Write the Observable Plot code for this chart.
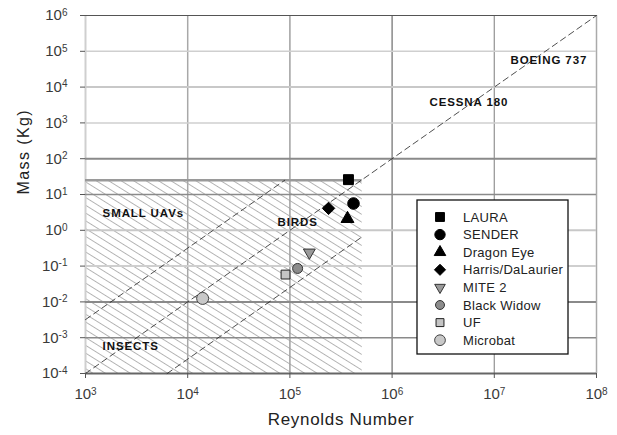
<!DOCTYPE html>
<html>
<head>
<meta charset="utf-8">
<script src="https://cdn.jsdelivr.net/npm/d3@7"></script>
<script src="https://cdn.jsdelivr.net/npm/@observablehq/plot@0.6"></script>
<style>
  html, body { margin: 0; padding: 0; background: #fff; }
  #chart svg { display: block; }
</style>
</head>
<body>
<div id="chart"></div>
<script>
// ---------- data ----------
const names    = ["LAURA", "SENDER", "Dragon Eye", "Harris/DaLaurier", "MITE 2", "Black Widow", "UF", "Microbat"];
const reynolds = [3.74e5, 4.19e5, 3.66e5, 2.39e5, 1.55e5, 1.19e5, 9.06e4, 1.4e4];
const mass     = [26, 5.6, 2.1, 4.1, 0.24, 0.086, 0.058, 0.0125];

const xTicks = [1e3, 1e4, 1e5, 1e6, 1e7, 1e8];
const yTicks = [1e-4, 1e-3, 1e-2, 1e-1, 1, 1e1, 1e2, 1e3, 1e4, 1e5, 1e6];

// shaded "small UAVs / birds / insects" region
const regionRe   = [1e3, 5.1e5];
const regionMass = [1e-4, 25];

// dashed scaling lines (mass ~ Re^2)
const lineMainRe   = [1e3, 1e8];
const lineMainMass = [1e-4, 1e6];
const lineUpperRe   = [1e3, 8.9e4];
const lineUpperMass = [3.2e-3, 25];
const lineLowerRe   = [6.3e3, 5.1e5];
const lineLowerMass = [1e-4, 0.66];

// region / aircraft annotations (left end of text)
const labelText = ["SMALL UAVs", "BIRDS", "INSECTS", "CESSNA 180", "BOEING 737"];
const labelRe   = [1470, 7.57e4, 1470, 2.32e6, 1.44e7];
const labelMass = [2.95, 1.65, 5.7e-4, 3720, 5.5e4];

// ---------- styles ----------
const FONT = "'Liberation Sans', Arial, Helvetica, sans-serif";
const downTriangle = {
  draw(context, size) {
    const y = -Math.sqrt(size / (3 * Math.sqrt(3)));
    context.moveTo(0, -2 * y);
    context.lineTo(-Math.sqrt(3) * y, y);
    context.lineTo(Math.sqrt(3) * y, y);
    context.closePath();
  }
};
const styleOf = {
  "LAURA":            {symbol: "square",   r: 5.6, fill: "#000", stroke: "#000"},
  "SENDER":           {symbol: "circle",   r: 5.8, fill: "#000", stroke: "#000"},
  "Dragon Eye":       {symbol: "triangle", r: 4.8, fill: "#000", stroke: "#000"},
  "Harris/DaLaurier": {symbol: "diamond2", r: 5.6, fill: "#000", stroke: "#000"},
  "MITE 2":           {symbol: downTriangle, r: 4.4, fill: "#9a9a9a", stroke: "#333"},
  "Black Widow":      {symbol: "circle",   r: 5.0, fill: "#8c8c8c", stroke: "#333"},
  "UF":               {symbol: "square",   r: 5.0, fill: "#c4c4c4", stroke: "#222"},
  "Microbat":         {symbol: "circle",   r: 6.0, fill: "#c8c8c8", stroke: "#444"}
};

// gridline styling by exponent
const hGridStyle = {
  "6": ["#555", 1.2], "5": ["#cfcfcf", 1.5], "4": ["#c8c8c8", 2], "3": ["#cfcfcf", 1.5],
  "2": ["#8a8a8a", 2], "1": ["#8a8a8a", 1.6], "0": ["#c8c8c8", 2], "-1": ["#cfcfcf", 2],
  "-2": ["#8a8a8a", 2], "-3": ["#8a8a8a", 1.6], "-4": ["#666", 2]
};
const vGridStyle = {
  "3": ["#cfcfcf", 2], "4": ["#a8a8a8", 1.5], "5": ["#a0a0a0", 1.5],
  "6": ["#777", 1.3], "7": ["#9a9a9a", 1.3], "8": ["#aaa", 1.5]
};
const exp10 = d => Math.round(Math.log10(d));

// ---------- marks ----------
const marks = [];

// hatch pattern definition
marks.push(() => {
  const defs = d3.create("svg:defs");
  const p = defs.append("pattern")
    .attr("id", "hatch").attr("patternUnits", "userSpaceOnUse")
    .attr("width", 8).attr("height", 6.6)
    .attr("patternTransform", "rotate(32)");
  p.append("rect").attr("width", 8).attr("height", 6.6).attr("fill", "#fff");
  p.append("line").attr("x1", 0).attr("x2", 8).attr("y1", 3.3).attr("y2", 3.3)
    .attr("stroke", "#acacac").attr("stroke-width", 0.9);
  return defs.node();
});

marks.push(Plot.rect([0], {
  x1: () => regionRe[0], x2: () => regionRe[1],
  y1: () => regionMass[0], y2: () => regionMass[1],
  fill: "url(#hatch)"
}));

for (const t of xTicks) {
  const [c, w] = vGridStyle[String(exp10(t))];
  marks.push(Plot.ruleX([t], {stroke: c, strokeWidth: w}));
}
for (const t of yTicks) {
  const [c, w] = hGridStyle[String(exp10(t))];
  marks.push(Plot.ruleY([t], {stroke: c, strokeWidth: w}));
}
// top edge of the shaded region
marks.push(Plot.ruleY([regionMass[1]], {x1: regionRe[0], x2: regionRe[1], stroke: "#9a9a9a", strokeWidth: 2.5}));

// dashed scaling lines
for (const [res, ms] of [[lineMainRe, lineMainMass], [lineUpperRe, lineUpperMass], [lineLowerRe, lineLowerMass]]) {
  marks.push(Plot.line(res.map((r, i) => i), {
    x: i => res[i], y: i => ms[i],
    stroke: "#222", strokeWidth: 0.8, strokeDasharray: "6,4"
  }));
}

// annotations
marks.push(Plot.text(labelText.map((_, i) => i), {
  x: i => labelRe[i], y: i => labelMass[i], text: i => labelText[i],
  textAnchor: "start", fontSize: 11.5, fontWeight: "bold", fill: "#111"
}));

// data points
names.forEach((n, i) => {
  const s = styleOf[n];
  marks.push(Plot.dot([i], {
    x: j => reynolds[j], y: j => mass[j],
    symbol: s.symbol, r: s.r, fill: s.fill, stroke: s.stroke, strokeWidth: 1
  }));
});

// axes
const fmt = d => "10^" + exp10(d);
marks.push(Plot.axisX({ticks: xTicks, tickFormat: fmt, tickSize: 5, tickPadding: 10, fontSize: 15, label: null, stroke: "#555", fill: "#3a3a3a"}));
marks.push(Plot.axisY({ticks: yTicks, tickFormat: fmt, tickSize: 5, tickPadding: 13, fontSize: 15, label: null, stroke: "#555", fill: "#3a3a3a"}));
marks.push(Plot.text(["Reynolds Number"], {frameAnchor: "bottom", dy: 51, fontSize: 17, fill: "#222"}));
marks.push(Plot.text(["Mass (Kg)"], {frameAnchor: "left", dx: -62, rotate: -90, fontSize: 16, fill: "#222"}));

const svg = Plot.plot({
  width: 617, height: 435,
  marginLeft: 85, marginRight: 21, marginTop: 15, marginBottom: 62,
  style: {fontFamily: FONT, background: "#fff", color: "#333", overflow: "visible"},
  x: {type: "log", domain: [1e3, 1e8]},
  y: {type: "log", domain: [1e-4, 1e6]},
  marks
});
document.getElementById("chart").appendChild(svg);

// ---------- post-processing ----------
const root = d3.select(svg);
// superscript exponents
root.selectAll("text").each(function () {
  const m = /^10\^(-?\d+)$/.exec(this.textContent);
  if (!m) return;
  const t = d3.select(this);
  t.text("10");
  t.append("tspan").attr("dy", "-0.45em").attr("font-size", "10px").text(m[1]);
});
// letter spacing for annotations and titles
root.selectAll("text").each(function () {
  const s = this.textContent;
  if (labelText.includes(s)) d3.select(this).attr("letter-spacing", "0.9px");
  if (s === "Reynolds Number") d3.select(this).attr("letter-spacing", "0.7px");
  if (s === "Mass (Kg)") d3.select(this).attr("letter-spacing", "1.4px");
});

// legend box
const lg = root.append("g").attr("font-family", FONT).attr("text-anchor", "start");
const box = {left: 417, top: 200, width: 151, height: 154};
lg.append("rect").attr("x", box.left).attr("y", box.top).attr("width", box.width).attr("height", box.height)
  .attr("fill", "#fff").attr("stroke", "#111").attr("stroke-width", 1.3);
const symFn = s => typeof s === "string"
  ? ({square: d3.symbolSquare, circle: d3.symbolCircle, triangle: d3.symbolTriangle, diamond2: d3.symbolDiamond2})[s]
  : s;
names.forEach((n, i) => {
  const s = styleOf[n];
  const cy = box.top + 17 + i * 17.6;
  lg.append("path")
    .attr("transform", `translate(${box.left + 23},${cy})`)
    .attr("d", d3.symbol(symFn(s.symbol), Math.PI * s.r * s.r * 0.8)())
    .attr("fill", s.fill).attr("stroke", s.stroke).attr("stroke-width", 1);
  lg.append("text").attr("x", box.left + 46).attr("y", cy).attr("dy", "0.35em")
    .attr("text-anchor", "start").attr("letter-spacing", "0.3px")
    .attr("font-size", 13).attr("fill", "#222").text(n);
});
</script>
</body>
</html>
